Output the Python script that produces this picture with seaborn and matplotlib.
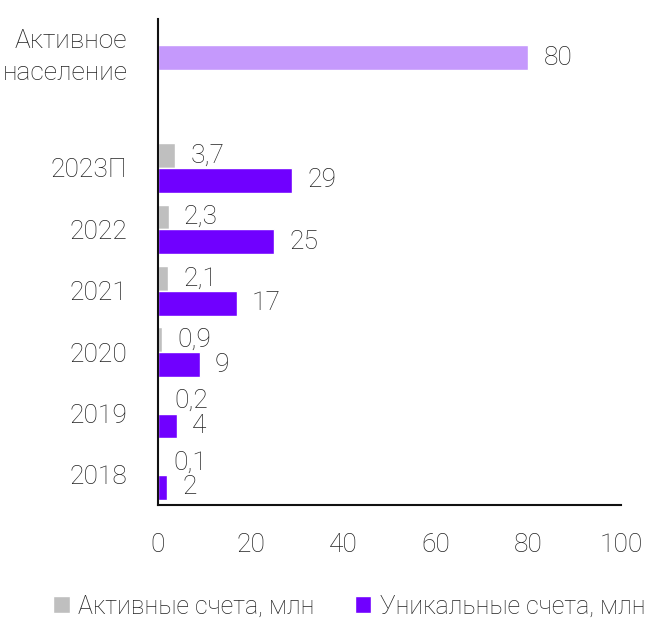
import matplotlib
matplotlib.use("Agg")
import matplotlib.pyplot as plt
import matplotlib.transforms as mtransforms
import pandas as pd
import seaborn as sns

# Data
years = ["2023П", "2022", "2021", "2020", "2019", "2018"]
active_accounts = [3.7, 2.3, 2.1, 0.9, 0.2, 0.1]
unique_accounts = [29, 25, 17, 9, 4, 2]
population_label = "Активное\nнаселение"
population_value = 80

series_active = "Активные счета, млн"
series_unique = "Уникальные счета, млн"

rows = [(population_label, series_unique, population_value)]
for y, a, u in zip(years, active_accounts, unique_accounts):
    rows.append((y, series_active, a))
    rows.append((y, series_unique, u))
df = pd.DataFrame(rows, columns=["cat", "series", "value"])

order = [population_label, " "] + years

sns.set_theme(style="white")
plt.rcParams["font.family"] = ["Roboto", "DejaVu Sans"]
plt.rcParams["font.weight"] = "light"
plt.rcParams["text.color"] = "#222222"

FS = 19

fig = plt.figure(figsize=(6.54, 6.19), dpi=100)
ax = fig.add_axes([0.2416, 0.1842, 0.9495 - 0.2416, 0.9693 - 0.1842])

gray = "#BFBFBF"
purple = "#7000FF"
light_purple = "#C599FC"

sns.barplot(data=df, x="value", y="cat", hue="series", order=order,
            hue_order=[series_active, series_unique],
            palette=[gray, purple], saturation=1, orient="h", errorbar=None,
            width=0.81, ax=ax, legend=True)

# recolour the population bar
for bar in ax.containers[1]:
    if abs(bar.get_width() - population_value) < 1e-9:
        bar.set_facecolor(light_purple)

# value labels
for i, cont in enumerate(ax.containers):
    vals = cont.datavalues
    if i == 0:
        labels = [f"{v:.1f}".replace(".", ",") for v in vals]
    else:
        labels = [f"{v:g}" for v in vals]
    ax.bar_label(cont, labels=labels, padding=11, fontsize=FS,
                 color="#222222", fontweight="light")

ax.set_xlim(0, 100)
ax.set_ylim(7.49, -0.427)
ax.set_xticks([0, 20, 40, 60, 80, 100])
ax.set_xlabel("")
ax.set_ylabel("")
ax.tick_params(axis="x", length=0, pad=20, labelsize=FS, colors="#222222")
ax.tick_params(axis="y", length=0, pad=22, labelsize=FS, colors="#222222")
for lab in ax.get_yticklabels():
    lab.set_fontweight("light")
    lab.set_linespacing(1.4)
for lab in ax.get_xticklabels():
    lab.set_fontweight("light")

# shift the two-line label slightly down
first = ax.get_yticklabels()[0]
first.set_transform(first.get_transform() +
                    mtransforms.ScaledTranslation(0, -4 / 72, fig.dpi_scale_trans))

for side in ["top", "right"]:
    ax.spines[side].set_visible(False)
for side in ["left", "bottom"]:
    ax.spines[side].set_color("#111111")
    ax.spines[side].set_linewidth(1.5)

ax.legend_.remove()
handles, labels = ax.get_legend_handles_labels()
fig.legend(handles, labels, loc="center", bbox_to_anchor=(0.534, 0.02),
           ncol=2, frameon=False, handlelength=0.65,
           handleheight=0.65, handletextpad=0.35, columnspacing=1.6,
           borderpad=0, prop={"weight": "light", "size": 18})

fig.savefig("out.png", dpi=100)
